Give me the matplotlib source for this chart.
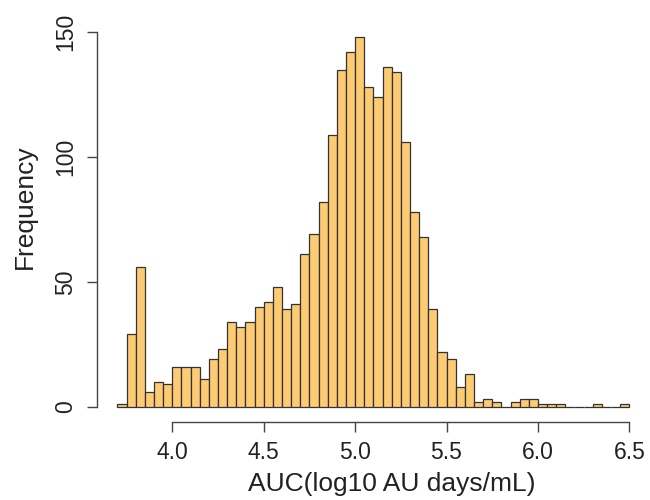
import matplotlib
matplotlib.use("Agg")
import matplotlib.pyplot as plt
import numpy as np

# Histogram data (bin width 0.05, first bin starts at 3.70)
bin_start = 3.70
bin_width = 0.05
counts = [1, 29, 56, 6, 10, 9, 16, 16, 16, 11,
          19, 23, 34, 32, 34, 40, 42, 48, 39, 41,
          61, 69, 82, 109, 135, 142, 148, 128, 124, 136,
          134, 106, 78, 68, 39, 22, 19, 8, 13, 2,
          3, 2, 0, 2, 3, 3, 1, 1, 1, 0,
          0, 0, 1, 0, 0, 1]
x_ticks = [4.0, 4.5, 5.0, 5.5, 6.0, 6.5]
x_ticklabels = ["4.0", "4.5", "5.0", "5.5", "6.0", "6.5"]
y_ticks = [0, 50, 100, 150]
y_ticklabels = ["0", "50", "100", "150"]
xlabel = "AUC(log10 AU days/mL)"
ylabel = "Frequency"

plt.rcParams['font.family'] = ['Liberation Sans', 'DejaVu Sans']

fig = plt.figure(figsize=(6.5, 5), dpi=100)
W, H = 650, 500
left, right, bottom, top = 97, 649.8, 421.5, 22.5
ax = fig.add_axes([left / W, 1 - bottom / H, (right - left) / W, (bottom - top) / H])

lefts = bin_start + bin_width * np.arange(len(counts))
ax.bar(lefts, counts, width=bin_width, align='edge',
       color='#FCCB74', edgecolor='#333333', linewidth=0.9)

n = len(counts)
xmin, xmax = bin_start, bin_start + bin_width * n
xr = xmax - xmin
ymax = max(counts)
ax.set_xlim(xmin - 0.04 * xr, xmax + 0.04 * xr)
ax.set_ylim(-0.04 * ymax, ymax * 1.04)

for s in ['top', 'right']:
    ax.spines[s].set_visible(False)
ax.spines['left'].set_bounds(0, 150)
ax.spines['bottom'].set_bounds(4.0, 6.5)
for s in ['left', 'bottom']:
    ax.spines[s].set_color('#444444')
    ax.spines[s].set_linewidth(1.0)

ax.set_xticks(x_ticks)
ax.set_xticklabels(x_ticklabels)
ax.set_yticks(y_ticks)
ax.set_yticklabels(y_ticklabels, rotation=90, va='center')
ax.tick_params(axis='both', direction='out', length=7.2, width=1.0,
               color='#444444', labelsize=16.5, labelcolor='#222222')
ax.tick_params(axis='x', pad=7)
ax.tick_params(axis='y', pad=7)

ax.set_xlabel(xlabel, fontsize=19, color='#222222', va='center')
ax.xaxis.set_label_coords((391.5 - left) / (right - left), (bottom - 484) / (bottom - top))
ax.set_ylabel(ylabel, fontsize=19, color='#222222', va='center')
ax.yaxis.set_label_coords((25 - left) / (right - left), (bottom - 207) / (bottom - top))

fig.savefig("out.png", dpi=100)
